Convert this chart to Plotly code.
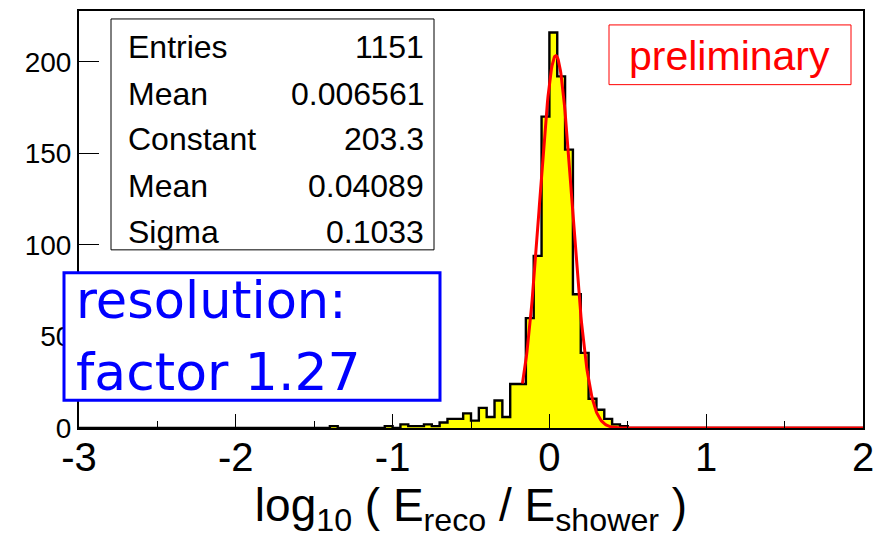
import plotly.graph_objects as go
import numpy as np

# ---------------- data ----------------
bin_width = 0.05
hist_range = [-3.0, 2.0]
# lower edges of the bins that lie in the populated region
bin_low_edges = [-1.45, -1.40, -1.35, -1.30, -1.25, -1.20, -1.15, -1.10, -1.05, -1.00,
                 -0.95, -0.90, -0.85, -0.80, -0.75, -0.70, -0.65, -0.60, -0.55, -0.50,
                 -0.45, -0.40, -0.35, -0.30, -0.25, -0.20, -0.15, -0.10, -0.05, 0.00,
                 0.05, 0.10, 0.15, 0.20, 0.25, 0.30, 0.35, 0.40, 0.45, 0.50]
bin_counts = [0, 1, 0, 0, 0, 0, 0, 0, 1, 0,
              2, 1, 1, 2, 1, 3, 5, 5, 8, 4,
              11, 6, 15, 6, 24, 24, 60, 94, 170, 216,
              192, 152, 73, 41, 16, 10, 5, 2, 1, 0]

fit_constant = 203.3
fit_mean = 0.04089
fit_sigma = 0.1033
fit_range = [-0.172, 2.0]

stats_labels = ["Entries", "Mean", "Constant", "Mean", "Sigma"]
stats_values = ["1151", "0.006561", "203.3", "0.04089", "0.1033"]

x_ticks = [-3, -2, -1, 0, 1, 2]
x_tick_labels = ["-3", "-2", "-1", "0", "1", "2"]
y_ticks = [0, 50, 100, 150, 200]
y_tick_labels = ["0", "50", "100", "150", "200"]
y_max = 227.7

# ---------------- layout geometry (pixels) ----------------
W, H = 888, 539
PL, PR, PT, PB = 79, 863, 9, 428


def px(x):
    return (x - PL) / (PR - PL)


def py(y):
    return (PB - y) / (PB - PT)


# ---------------- histogram outline ----------------
edges = [hist_range[0]] + list(bin_low_edges) + [bin_low_edges[-1] + bin_width, hist_range[1]]
counts = [0] + list(bin_counts) + [0, 0]

fig = go.Figure()
fig.add_trace(go.Scatter(
    x=edges, y=counts, mode="lines", line=dict(shape="hv", color="black", width=2.4),
    fill="tozeroy", fillcolor="#ffff00", hoverinfo="skip", showlegend=False))

xf = np.linspace(fit_range[0], fit_range[1], 600)
yf = fit_constant * np.exp(-0.5 * ((xf - fit_mean) / fit_sigma) ** 2)
fig.add_trace(go.Scatter(x=xf, y=yf, mode="lines", line=dict(color="#ff0000", width=3),
                         hoverinfo="skip", showlegend=False))

arial = "Liberation Sans, Arial, sans-serif"

fig.update_layout(
    width=W, height=H,
    margin=dict(l=PL, r=W - PR, t=PT, b=H - PB, pad=0),
    paper_bgcolor="white", plot_bgcolor="white",
    xaxis=dict(range=hist_range, tickvals=x_ticks, ticktext=x_tick_labels,
               ticks="inside", ticklen=14, tickwidth=1, ticklabelstandoff=-7,
               tickcolor="black", showline=True, linecolor="black", linewidth=2, mirror=True,
               showgrid=False, zeroline=False,
               minor=dict(ticks="inside", ticklen=7, dtick=0.5, tick0=0, tickcolor="black",
                          tickwidth=1, showgrid=False),
               tickfont=dict(family=arial, size=40, color="black"),
               title=dict(text="log<sub>10</sub> ( E<sub>reco</sub> / E<sub>shower</sub> )",
                          font=dict(family=arial, size=46, color="black"), standoff=4)),
    yaxis=dict(range=[0, y_max], tickvals=y_ticks, ticktext=y_tick_labels,
               ticks="inside", ticklen=20, tickwidth=1,
               tickcolor="black", showline=True, linecolor="black", linewidth=2, mirror=True,
               showgrid=False, zeroline=False,
               tickfont=dict(family=arial, size=28, color="black")),
)

# stats box
fig.add_shape(type="rect", xref="paper", yref="paper", x0=px(111), x1=px(434), y0=py(249), y1=py(17),
              line=dict(color="black", width=1), fillcolor="white", layer="above")
row_y = [45.5, 92, 137.5, 184.5, 231]
for lab, val, yy in zip(stats_labels, stats_values, row_y):
    fig.add_annotation(text=lab, xref="paper", yref="paper", x=px(126), y=py(yy), xanchor="left",
                       yanchor="middle", showarrow=False, font=dict(family=arial, size=32, color="black"))
    fig.add_annotation(text=val, xref="paper", yref="paper", x=px(426), y=py(yy), xanchor="right",
                       yanchor="middle", showarrow=False, font=dict(family=arial, size=32, color="black"))

# preliminary box
fig.add_shape(type="rect", xref="paper", yref="paper", x0=px(609), x1=px(851), y0=py(83), y1=py(23),
              line=dict(color="#ff0000", width=1), fillcolor="white", layer="above")
fig.add_annotation(text="preliminary", xref="paper", yref="paper", x=px(729), y=py(54),
                   xanchor="center", yanchor="middle", showarrow=False,
                   font=dict(family=arial, size=41, color="#ff0000"))

# resolution box
fig.add_shape(type="rect", xref="paper", yref="paper", x0=px(64), x1=px(440), y0=py(400), y1=py(272),
              line=dict(color="#0000ff", width=3), fillcolor="white", layer="above")
fig.add_annotation(text="resolution:", xref="paper", yref="paper", x=px(74), y=py(300),
                   xanchor="left", yanchor="middle", showarrow=False,
                   font=dict(family="DejaVu Sans", size=51, color="#0000ff"))
fig.add_annotation(text="factor 1.27", xref="paper", yref="paper", x=px(74), y=py(372),
                   xanchor="left", yanchor="middle", showarrow=False,
                   font=dict(family="DejaVu Sans", size=52, color="#0000ff"))

fig.write_html("out.html")
